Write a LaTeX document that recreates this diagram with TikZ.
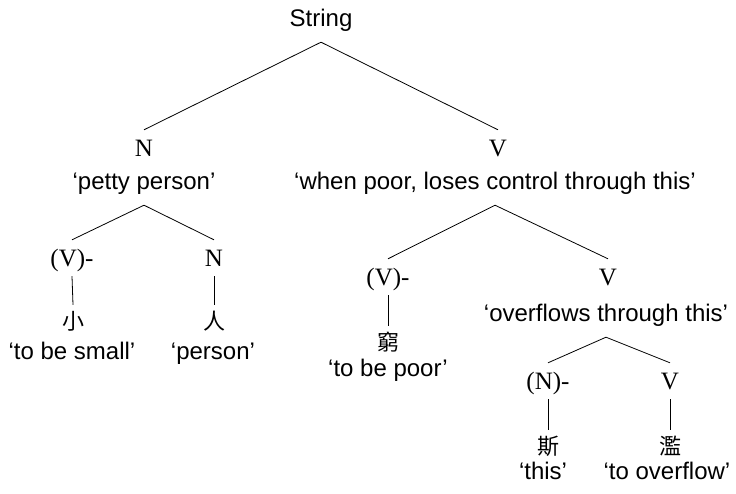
\documentclass[tikz,border=0pt]{standalone}
\usepackage{fontspec}
\setmainfont{Liberation Sans}
\newfontfamily\hanfont{Noto Sans CJK TC}
\newfontfamily\catfont{Liberation Serif}
\begin{document}
\begin{tikzpicture}[x=1pt,y=-1pt,
  gloss/.style={font=\fontsize{24}{24}\selectfont, text height=17pt, text depth=5pt,
                inner xsep=0pt, inner ysep=11pt},
  cat/.style={font=\fontsize{25}{25}\catfont, text height=16pt, text depth=0pt,
              inner xsep=0pt, inner ysep=10pt},
  han/.style={font=\fontsize{22}{22}\hanfont, text height=18pt, text depth=3pt,
              inner xsep=0pt, inner ysep=6.5pt},
  edge/.style={draw=black, line width=0.8pt}]
\useasboundingbox (0,0) rectangle (736,493);

% root
\node[gloss] (root) at (321,20) {String};

% first split
\node[cat]   (nN)  at (144,148) {N};
\node[gloss] (nNg) at (144,183) {`petty person'};
\node[cat]   (nV)  at (498,148) {V};
\node[gloss] (nVg) at (495,183) {`when poor, loses control through this'};
\draw[edge] (root.south) -- (nN.north);
\draw[edge] (root.south) -- (nV.north);

% 'petty person'
\node[cat]   (a)   at (72,258)  {(V)-};
\node[han]   (ah)  at (73,322)  {小};
\node[gloss] (ag)  at (72,353)  {`to be small'};
\node[cat]   (b)   at (214,258) {N};
\node[han]   (bh)  at (214,322) {人};
\node[gloss] (bg)  at (213,353) {`person'};
\draw[edge] (nNg.south) -- (a.north);
\draw[edge] (nNg.south) -- (b.north);
\draw[edge] (a.south) -- (ah.north);
\draw[edge] (b.south) -- (bh.north);

% 'when poor, loses control through this'
\node[cat]   (c)   at (388,277) {(V)-};
\node[han]   (ch)  at (388,343) {窮};
\node[gloss] (cg)  at (388,370) {`to be poor'};
\node[cat]   (d)   at (608,277) {V};
\node[gloss] (dg)  at (606,315) {`overflows through this'};
\draw[edge] (nVg.south) -- (c.north);
\draw[edge] (nVg.south) -- (d.north);
\draw[edge] (c.south) -- (ch.north);

% 'overflows through this'
\node[cat]   (e)   at (548,381) {(N)-};
\node[han]   (eh)  at (548,447) {斯};
\node[gloss] (eg)  at (543,473) {`this'};
\node[cat]   (f)   at (670,381) {V};
\node[han]   (fh)  at (670,447) {濫};
\node[gloss] (fg)  at (667,473) {`to overflow'};
\draw[edge] (dg.south) -- (e.north);
\draw[edge] (dg.south) -- (f.north);
\draw[edge] (e.south) -- (eh.north);
\draw[edge] (f.south) -- (fh.north);
\end{tikzpicture}
\end{document}
